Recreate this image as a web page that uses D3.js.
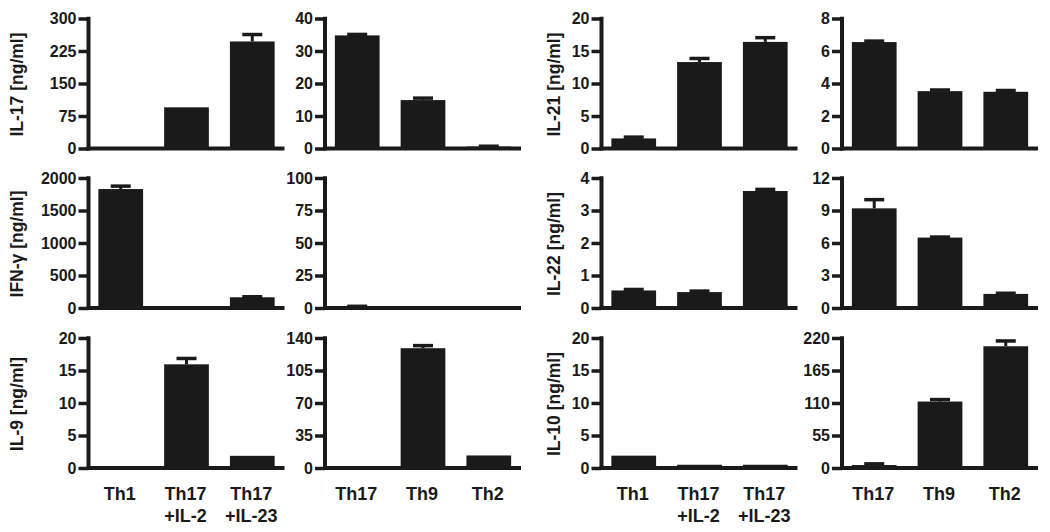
<!DOCTYPE html>
<html>
<head>
<meta charset="utf-8">
<script src="https://cdn.jsdelivr.net/npm/d3@7"></script>
<style>
  html, body { margin: 0; padding: 0; background: #fff; }
  svg { display: block; }
  text { font-family: "Liberation Sans", Arial, Helvetica, sans-serif; font-weight: bold; fill: #1a1a1a; }
</style>
</head>
<body>
<svg id="chart" width="1050" height="532"></svg>
<script>
// ---------- DATA ----------
const groupsA = [["Th1"], ["Th17", "+IL-2"], ["Th17", "+IL-23"]];
const groupsB = [["Th17"], ["Th9"], ["Th2"]];

const il17A = [0, 95, 247],        il17AErr = [0, 0, 16];
const il17B = [34.8, 14.9, 0.6],   il17BErr = [0.3, 0.6, 0.1];
const il21A = [1.55, 13.3, 16.4],  il21AErr = [0.2, 0.55, 0.65];
const il21B = [6.55, 3.53, 3.49],  il21BErr = [0.06, 0.07, 0.08];
const ifngA = [1830, 0, 165],      ifngAErr = [45, 0, 8];
const ifngB = [0.5, 0, 0],         ifngBErr = [0.8, 0, 0];
const il22A = [0.54, 0.49, 3.6],   il22AErr = [0.03, 0.03, 0.05];
const il22B = [9.2, 6.5, 1.3],     il22BErr = [0.8, 0.05, 0.06];
const il9A  = [0, 15.95, 1.87],    il9AErr  = [0, 0.9, 0];
const il9B  = [0, 129, 13.5],      il9BErr  = [0, 2.8, 0];
const il10A = [1.9, 0.5, 0.5],     il10AErr = [0, 0, 0];
const il10B = [5, 112.5, 206],     il10BErr = [2, 3.3, 9];

const ticksIL17A = [0, 75, 150, 225, 300];
const ticksIL17B = [0, 10, 20, 30, 40];
const ticksIL21A = [0, 5, 10, 15, 20];
const ticksIL21B = [0, 2, 4, 6, 8];
const ticksIFNA  = [0, 500, 1000, 1500, 2000];
const ticksIFNB  = [0, 25, 50, 75, 100];
const ticksIL22A = [0, 1, 2, 3, 4];
const ticksIL22B = [0, 3, 6, 9, 12];
const ticksIL9A  = [0, 5, 10, 15, 20];
const ticksIL9B  = [0, 35, 70, 105, 140];
const ticksIL10A = [0, 5, 10, 15, 20];
const ticksIL10B = [0, 55, 110, 165, 220];

const yLabels = ["IL-17 [ng/ml]", "IFN-γ [ng/ml]", "IL-9 [ng/ml]", "IL-21 [ng/ml]", "IL-22 [ng/ml]", "IL-10 [ng/ml]"];

// panels: [row, col, values, errors, ticks, groups, yLabelIndex or null]
const panels = [
  [0, 0, il17A, il17AErr, ticksIL17A, groupsA, 0],
  [0, 1, il17B, il17BErr, ticksIL17B, groupsB, null],
  [0, 2, il21A, il21AErr, ticksIL21A, groupsA, 3],
  [0, 3, il21B, il21BErr, ticksIL21B, groupsB, null],
  [1, 0, ifngA, ifngAErr, ticksIFNA, groupsA, 1],
  [1, 1, ifngB, ifngBErr, ticksIFNB, groupsB, null],
  [1, 2, il22A, il22AErr, ticksIL22A, groupsA, 4],
  [1, 3, il22B, il22BErr, ticksIL22B, groupsB, null],
  [2, 0, il9A, il9AErr, ticksIL9A, groupsA, 2],
  [2, 1, il9B, il9BErr, ticksIL9B, groupsB, null],
  [2, 2, il10A, il10AErr, ticksIL10A, groupsA, 5],
  [2, 3, il10B, il10BErr, ticksIL10B, groupsB, null]
];

// ---------- LAYOUT ----------
const colAxisX = [88.5, 325, 601.5, 842];
const plotW = 196;
const rowTop = [18.5, 178, 338];
const rowH = 130;
const yLabelX = [23, null, 560, null];
const ink = "#1a1a1a";

const svg = d3.select("#chart");

panels.forEach(([r, c, vals, errs, ticks, groups, labIdx]) => {
  const x0 = colAxisX[c];
  const top = rowTop[r];
  const bottom = top + rowH;
  const y = d3.scaleLinear().domain([0, ticks[ticks.length - 1]]).range([bottom, top]);
  const x = d3.scaleBand().domain(d3.range(vals.length))
    .range([x0, x0 + plotW]).paddingInner(0.32).paddingOuter(0.15);

  const g = svg.append("g");

  // bars
  g.selectAll("rect.bar").data(vals).join("rect")
    .attr("class", "bar")
    .attr("x", (d, i) => x(i))
    .attr("width", x.bandwidth())
    .attr("y", d => y(d))
    .attr("height", d => y(0) - y(d))
    .attr("fill", ink);

  // error bars (upper only)
  const capW = 20;
  vals.forEach((v, i) => {
    const e = errs[i];
    if (e <= 0) return;
    const cx = x(i) + x.bandwidth() / 2;
    g.append("line")
      .attr("x1", cx).attr("x2", cx)
      .attr("y1", y(v)).attr("y2", y(v + e))
      .attr("stroke", ink).attr("stroke-width", 3);
    g.append("line")
      .attr("x1", cx - capW / 2).attr("x2", cx + capW / 2)
      .attr("y1", y(v + e)).attr("y2", y(v + e))
      .attr("stroke", ink).attr("stroke-width", 3.5);
  });

  // y axis
  const ax = g.append("g")
    .attr("transform", `translate(${x0},0)`)
    .call(d3.axisLeft(y).tickValues(ticks).tickSize(10).tickSizeOuter(0).tickPadding(2).tickFormat(d3.format("d")));
  ax.select(".domain").attr("stroke", ink).attr("stroke-width", 4)
    .attr("d", `M0,${top - 1.75}V${bottom + 2}`);
  ax.selectAll(".tick line").attr("stroke", ink).attr("stroke-width", 3.5);
  ax.selectAll(".tick text").style("font-size", "16px").attr("fill", ink);

  // baseline
  g.append("line")
    .attr("x1", x0 - 2).attr("x2", x0 + plotW)
    .attr("y1", y(0)).attr("y2", y(0))
    .attr("stroke", ink).attr("stroke-width", 4);

  // y label
  if (labIdx !== null) {
    g.append("text")
      .attr("transform", `translate(${yLabelX[c]},${(top + bottom) / 2 + 1}) rotate(-90)`)
      .attr("text-anchor", "middle")
      .style("font-size", "17.5px")
      .text(yLabels[labIdx]);
  }

  // x labels on bottom row
  if (r === 2) {
    groups.forEach((lines, i) => {
      const t = g.append("text")
        .attr("text-anchor", "middle")
        .style("font-size", "18px");
      lines.forEach((ln, k) => {
        t.append("tspan")
          .attr("x", x(i) + x.bandwidth() / 2 - 1)
          .attr("y", 500 + k * 21.5)
          .text(ln);
      });
    });
  }
});
</script>
</body>
</html>
